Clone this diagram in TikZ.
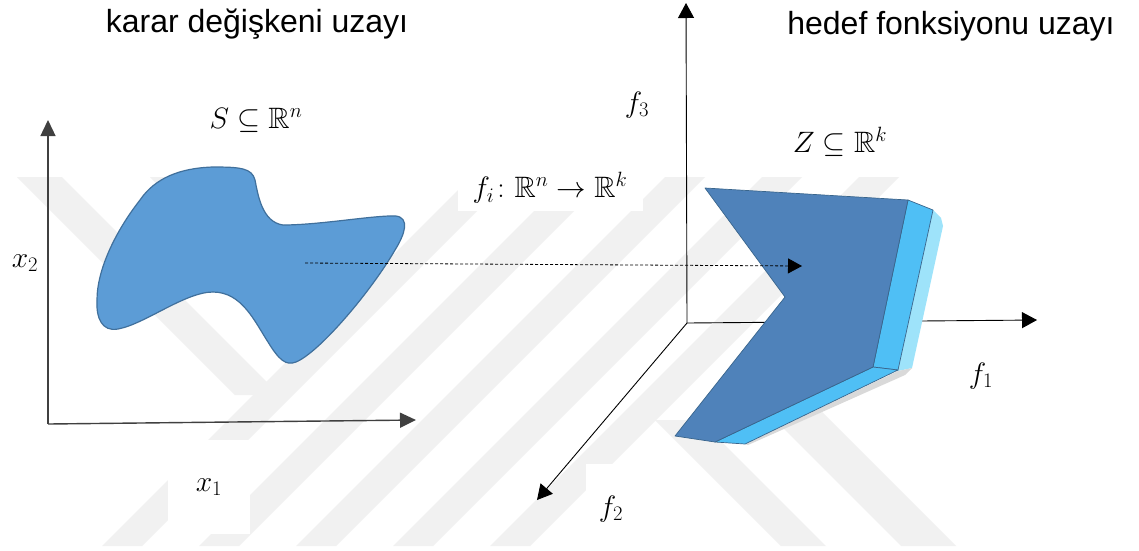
\RequirePackage{fix-cm}
\documentclass[tikz,border=0pt]{standalone}
\usepackage{fontspec}
\setmainfont{Liberation Sans}
\usepackage{amsmath,amssymb}
\usetikzlibrary{arrows.meta}

\begin{document}
\begin{tikzpicture}[x=1pt,y=1pt,yscale=-1,xscale=1,
  title/.style={font=\fontsize{32}{38}\selectfont, inner sep=0pt},
  mathlab/.style={font=\fontsize{29.5}{34}\selectfont, inner sep=2pt},
  boxlab/.style={mathlab, fill=white},
  axisL/.style={draw=black!75, line width=1.4pt, -{Triangle[length=16pt,width=15pt]}},
  axisR/.style={draw=black, line width=0.9pt, -{Triangle[length=15pt,width=16pt]}},
  face/.style={draw=myedge!90!black, line width=0.7pt, line join=round}]

\definecolor{myblue}{rgb}{0.36, 0.61, 0.84}
\definecolor{myedge}{rgb}{0.25, 0.44, 0.61}
\definecolor{myface}{rgb}{0.31, 0.51, 0.73}
\definecolor{mycyan}{rgb}{0.31, 0.75, 0.96}
\definecolor{mylight}{rgb}{0.62, 0.89, 0.98}
\definecolor{mywm}{rgb}{0.945, 0.945, 0.945}

\useasboundingbox (0,0) rectangle (1139,550);
\fill[white] (0,0) rectangle (1139,550);

% faint watermark stripes
\begin{scope}
  \clip (0,177) rectangle (1000,546);
  \foreach \i in {102, 199, 296, 393, 490} {
    \fill[mywm] (\i,546) -- ++(40,0) -- ++(369,-369) -- ++(-40,0) -- cycle;
  }
  \fill[mywm] (17,177) -- (62,177) -- (280,395) -- (235,395) -- cycle;
  \fill[mywm] (150,177) -- (190,177) -- (303,290) -- (263,290) -- cycle;
  \fill[mywm] (655,420) -- (700,420) -- (826,546) -- (781,546) -- cycle;
  \fill[mywm] (735,380) -- (790,380) -- (956,546) -- (901,546) -- cycle;
\end{scope}

% titles
\node[title] (lefttitle) at (257,24) {karar değişkeni uzayı};
\node[title] (righttitle) at (951,26) {hedef fonksiyonu uzayı};

% decision space
\coordinate (O1) at (48,424);
\coordinate (X1) at (416,420);
\coordinate (X2) at (48,120);
\draw[axisL] (O1) -- (X1);
\draw[axisL] (O1) -- (X2);

\draw[fill=myblue, draw=myedge, line width=1.2pt]
  (97,300) .. controls (96,318) and (102,332) .. (118,329)
  .. controls (145,324) and (185,292) .. (213,292)
  .. controls (242,292) and (255,322) .. (268,342)
  .. controls (279,360) and (286,366) .. (296,362)
  .. controls (320,352) and (372,290) .. (395,250)
  .. controls (405,234) and (410,218) .. (396,216)
  .. controls (375,215) and (320,225) .. (283,225)
  .. controls (262,222) and (258,195) .. (255,180)
  .. controls (252,168) and (240,167) .. (213,167)
  .. controls (180,168) and (155,178) .. (140,200)
  .. controls (115,232) and (97,270) .. cycle;

\node[mathlab] (Slab) at (256,120) {$S \subseteq \mathbb{R}^n$};
\node[mathlab] (x2lab) at (25,263) {$x_2$};
\node[boxlab, minimum width=82, minimum height=94] (x1lab) at (209,487) {$x_1$};

% objective space
\coordinate (O2) at (687,323);
\coordinate (F1) at (1037,320);
\coordinate (F2) at (537,500);
\coordinate (F3) at (686,3);
\draw[axisR] (O2) -- (F1);
\draw[axisR] (O2) -- (F2);
\draw[axisR] (O2) -- (F3);

\fill[mylight] (933,210) -- (941,218) -- (943,226) -- (912,368) -- (898,371) -- cycle;
\fill[black!15] (898,371) -- (912,368) -- (905,375) -- (748,445) -- (745,444) -- cycle;
\draw[face, fill=mycyan] (908,200) -- (933,210) -- (898,370) -- (873,367) -- cycle;
\draw[face, fill=mycyan] (873,367) -- (898,370) -- (745,444) -- (715,442) -- cycle;
\draw[face, fill=myface] (705,188) -- (908,200) -- (873,367) -- (715,442) -- (675,436) -- (785,297) -- cycle;

\node[mathlab] (f3lab) at (637,105) {$f_3$};
\node[mathlab] (Zlab) at (840,142) {$Z \subseteq \mathbb{R}^k$};
\node[mathlab] (f1lab) at (981,376) {$f_1$};
\node[boxlab, minimum width=50, minimum height=90] (f2lab) at (611,509) {$f_2$};

% mapping
\node[boxlab, minimum width=185, minimum height=46] (maplab) at (550,188) {$f_i\colon \mathbb{R}^n \rightarrow \mathbb{R}^k$};
\coordinate (src) at (305,263);
\coordinate (dst) at (802,266);
\draw[black, line width=0.8pt, dash pattern=on 3pt off 2pt, -{Triangle[length=14pt,width=15pt]}] (src) -- (dst);

\end{tikzpicture}
\end{document}
